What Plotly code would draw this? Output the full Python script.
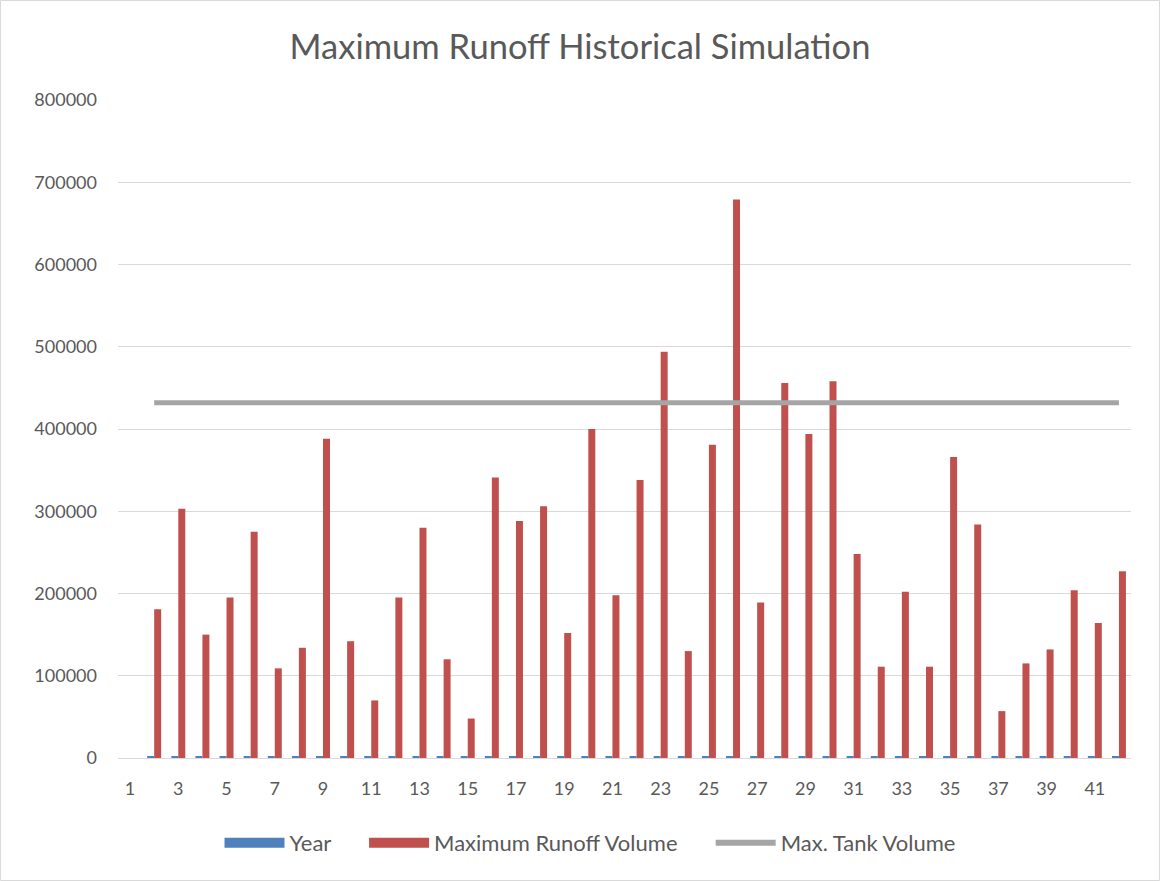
import plotly.graph_objects as go

categories = list(range(2, 43))
years = list(range(1975, 2016))
runoff = [181000, 303000, 150000, 195000, 275000, 109000, 134000, 388000, 142000, 70000,
          195000, 280000, 120000, 48000, 341000, 288000, 306000, 152000, 400000, 198000,
          338000, 494000, 130000, 381000, 679000, 189000, 456000, 394000, 458000, 248000,
          111000, 202000, 111000, 366000, 284000, 57000, 115000, 132000, 204000, 164000,
          227000]
tank = [432000] * 41
xticks = list(range(1, 42, 2))
yticks = list(range(0, 800001, 100000))

BLUE, RED, GRAY = "#4f81bd", "#c0504d", "#a5a5a5"
font = "Lato"
PAD = "\u00a0" * 5
fig = go.Figure()
fig.add_trace(go.Bar(x=categories, y=years, name="Year", marker_color=BLUE,
                     marker_line_width=0, showlegend=False))
fig.add_trace(go.Bar(x=categories, y=runoff, name="Maximum Runoff Volume",
                     marker_color=RED, marker_line_width=0, showlegend=False))
fig.add_trace(go.Scatter(x=categories, y=tank, name="Max. Tank Volume", mode="lines",
                         line=dict(color=GRAY, width=5), showlegend=False))
# legend entries (wide swatches like the original)
for name, color, w in [("Year" + PAD, BLUE, 12), ("Maximum Runoff Volume" + PAD, RED, 12),
                       ("Max. Tank Volume", GRAY, 6)]:
    fig.add_trace(go.Scatter(x=[None], y=[None], name=name, mode="lines",
                             line=dict(color=color, width=w)))

fig.update_layout(
    width=1160, height=881,
    paper_bgcolor="white", plot_bgcolor="white",
    margin=dict(l=118, r=29, t=100, b=123),
    title=dict(text="Maximum Runoff Historical Simulation", x=0.5, xanchor="center",
               y=1 - 47 / 881, yanchor="middle",
               font=dict(family=font, size=34.5, color="#595959")),
    barmode="group", bargap=0.42, bargroupgap=0,
    font=dict(family=font, size=18, color="#595959"),
    legend=dict(orientation="h", x=(590 - 118) / 1013, xanchor="center", y=-(843 - 758) / 658,
                yanchor="middle", font=dict(size=22, color="#595959"),
                itemwidth=60, tracegroupgap=0),
    xaxis=dict(range=[0.5, 42.5], tickvals=xticks, ticktext=[str(v) for v in xticks],
               showgrid=False, showline=True, linecolor="#d9d9d9", linewidth=1,
               ticks="", ticklabelstandoff=14, zeroline=False),
    yaxis=dict(range=[0, 800000], tickvals=yticks, ticktext=[str(v) for v in yticks],
               showgrid=True, gridcolor="#d9d9d9", gridwidth=1, zeroline=False,
               ticks="", ticklabelstandoff=20, showline=False),
    shapes=[dict(type="rect", xref="paper", yref="paper", x0=-117.5 / 1013, x1=1 + 28.5 / 1013,
                 y0=-122.5 / 658, y1=1 + 99.5 / 658, line=dict(color="#d9d9d9", width=1))],
)

fig.write_html("out.html", config={"displayModeBar": False},
               post_script="document.body.style.margin='0';")
